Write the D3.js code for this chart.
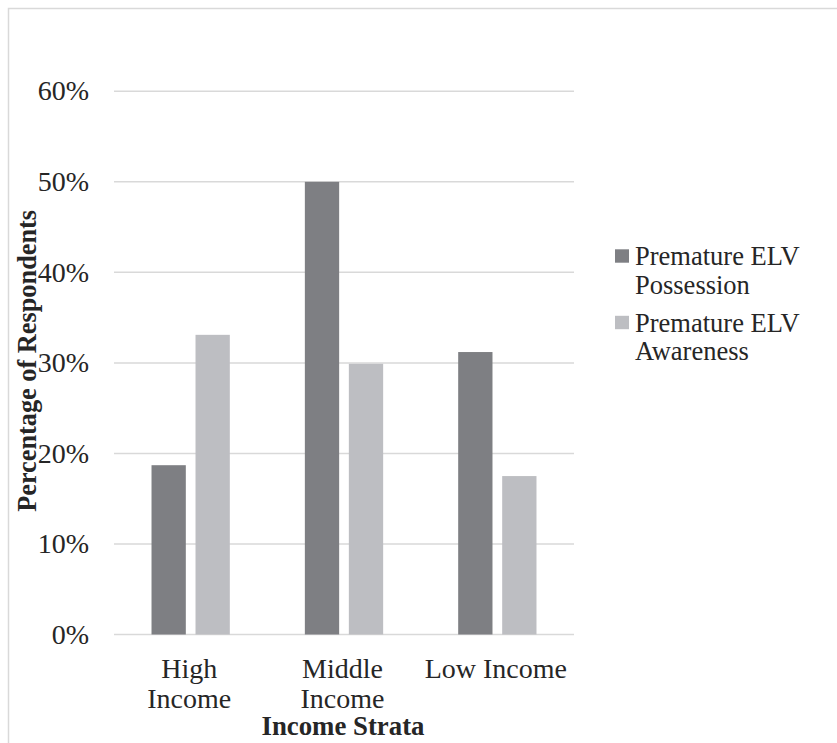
<!DOCTYPE html>
<html>
<head>
<meta charset="utf-8">
<script src="https://cdn.jsdelivr.net/npm/d3@7"></script>
<style>
  html, body { margin: 0; padding: 0; background: #fff; }
  svg { display: block; font-family: "Liberation Serif", "Times New Roman", serif; }
</style>
</head>
<body>
<svg id="chart" width="837" height="743"></svg>
<script>
// Income strata and the share of respondents in each series
const categories = ["High Income", "Middle Income", "Low Income"];
const categoryLines = [["High", "Income"], ["Middle", "Income"], ["Low Income"]];
const seriesNames = ["Premature ELV Possession", "Premature ELV Awareness"];
const legendLines = [["Premature ELV", "Possession"], ["Premature ELV", "Awareness"]];
const possession = [0.187, 0.500, 0.312];
const awareness = [0.331, 0.299, 0.175];
const yTicks = [0, 0.1, 0.2, 0.3, 0.4, 0.5, 0.6];
const seriesColors = ["#7e7f83", "#bdbec2"];

const svg = d3.select("#chart");

// outer frame
svg.append("rect")
  .attr("x", 8.5).attr("y", 8.5)
  .attr("width", 840).attr("height", 740)
  .attr("fill", "none").attr("stroke", "#d9d9d9").attr("stroke-width", 1.5);

const plot = { left: 114, right: 574, top: 91.3, bottom: 634.5 };

const x = d3.scaleBand().domain(categories).range([plot.left, plot.right]).padding(0);
const y = d3.scaleLinear().domain([0, 0.6]).range([plot.bottom, plot.top]);

// gridlines
svg.append("g").selectAll("line").data(yTicks).join("line")
  .attr("x1", plot.left).attr("x2", plot.right)
  .attr("y1", d => y(d)).attr("y2", d => y(d))
  .attr("stroke", "#d9d9d9").attr("stroke-width", 1.5);

// y axis labels
const yAxis = d3.axisLeft(y).tickValues(yTicks).tickFormat(d3.format(".0%")).tickSize(0).tickPadding(0);
const yg = svg.append("g").attr("transform", `translate(89,0)`).call(yAxis);
yg.select(".domain").remove();
yg.selectAll("text")
  .attr("font-family", "Liberation Serif, serif")
  .attr("font-size", 28).attr("fill", "#262626")
  .attr("dy", "0.31em");

// bars
const barW = 34.3, barGap = 9.7;
const groupW = barW * 2 + barGap;
const series = [possession, awareness];
series.forEach((vals, si) => {
  svg.append("g").selectAll("rect").data(categories).join("rect")
    .attr("x", c => x(c) + x.bandwidth() / 2 - groupW / 2 + si * (barW + barGap))
    .attr("width", barW)
    .attr("y", (c, i) => y(vals[i]))
    .attr("height", (c, i) => y(0) - y(vals[i]))
    .attr("fill", seriesColors[si]);
});

// category labels
const xl = svg.append("g");
categories.forEach((c, i) => {
  const cx = x(c) + x.bandwidth() / 2 - 1.5;
  const t = xl.append("text")
    .attr("x", cx)
    .attr("y", 678.3)
    .attr("text-anchor", "middle")
    .attr("font-size", 28).attr("fill", "#262626");
  categoryLines[i].forEach((line, li) => {
    t.append("tspan").attr("x", cx).attr("dy", li === 0 ? 0 : 29.5).text(line);
  });
});

// axis titles
svg.append("text")
  .attr("x", (plot.left + plot.right) / 2 - 1).attr("y", 735)
  .attr("text-anchor", "middle")
  .attr("font-size", 26.8).attr("font-weight", "bold").attr("fill", "#262626")
  .text("Income Strata");

svg.append("text")
  .attr("transform", `translate(35.5,${(plot.top + plot.bottom) / 2 - 2}) rotate(-90)`)
  .attr("text-anchor", "middle")
  .attr("font-size", 26.3).attr("font-weight", "bold").attr("fill", "#262626")
  .text("Percentage of Respondents");

// legend
const legend = svg.append("g");
seriesNames.forEach((name, i) => {
  const top = 249.3 + i * 66.5;
  legend.append("rect")
    .attr("x", 615).attr("y", top)
    .attr("width", 14).attr("height", 13.4)
    .attr("fill", seriesColors[i]);
  const t = legend.append("text")
    .attr("x", 635).attr("y", top + 15.7)
    .attr("font-size", 26.5).attr("fill", "#262626");
  legendLines[i].forEach((line, li) => {
    t.append("tspan").attr("x", 635).attr("dy", li === 0 ? 0 : 28.5).text(line);
  });
});
</script>
</body>
</html>
